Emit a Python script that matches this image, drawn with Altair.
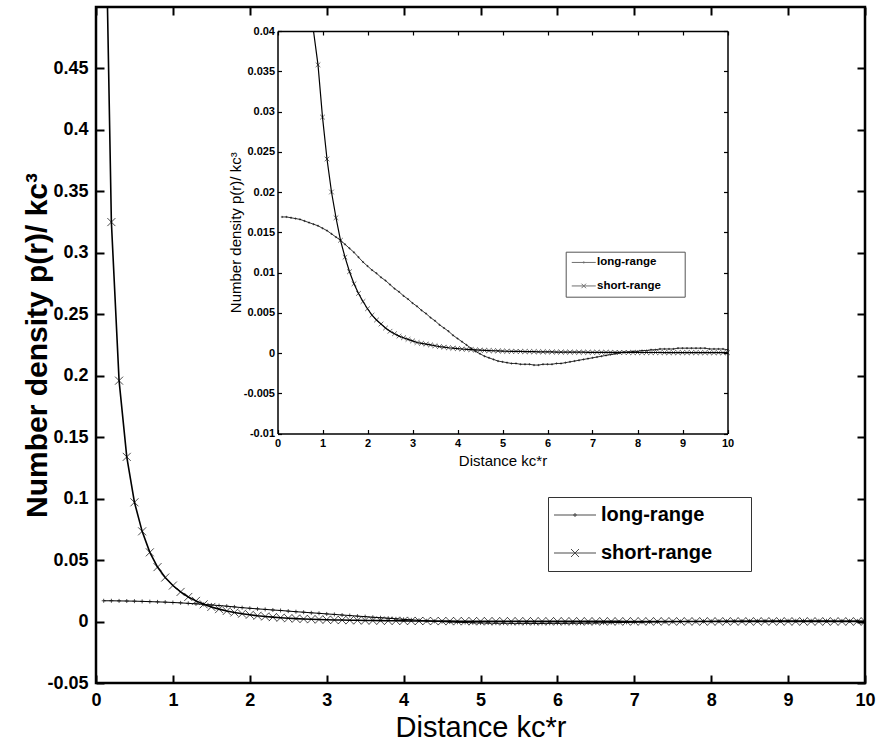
import altair as alt
import pandas as pd

# ---------------- data ----------------
r = [0.1, 0.2, 0.3, 0.4, 0.5, 0.6, 0.7, 0.8, 0.9, 1.0,
     1.1, 1.2, 1.3, 1.4, 1.5, 1.6, 1.7, 1.8, 1.9, 2.0,
     2.1, 2.2, 2.3, 2.4, 2.5, 2.6, 2.7, 2.8, 2.9, 3.0,
     3.1, 3.2, 3.3, 3.4, 3.5, 3.6, 3.7, 3.8, 3.9, 4.0,
     4.1, 4.2, 4.3, 4.4, 4.5, 4.6, 4.7, 4.8, 4.9, 5.0,
     5.1, 5.2, 5.3, 5.4, 5.5, 5.6, 5.7, 5.8, 5.9, 6.0,
     6.1, 6.2, 6.3, 6.4, 6.5, 6.6, 6.7, 6.8, 6.9, 7.0,
     7.1, 7.2, 7.3, 7.4, 7.5, 7.6, 7.7, 7.8, 7.9, 8.0,
     8.1, 8.2, 8.3, 8.4, 8.5, 8.6, 8.7, 8.8, 8.9, 9.0,
     9.1, 9.2, 9.3, 9.4, 9.5, 9.6, 9.7, 9.8, 9.9, 10.0]

long_range = [0.0169, 0.0169, 0.0168, 0.0167, 0.0166, 0.0164, 0.0162, 0.0160, 0.0158, 0.0155,
              0.0152, 0.0148, 0.0144, 0.0140, 0.0135, 0.0130, 0.0125, 0.0119, 0.0113, 0.0108,
              0.0103, 0.0099, 0.0094, 0.0090, 0.0085, 0.0080, 0.0076, 0.0071, 0.0067, 0.0062,
              0.0058, 0.0053, 0.0049, 0.0044, 0.0040, 0.0035, 0.0031, 0.0027, 0.0022, 0.0018,
              0.0014, 0.0010, 0.0006, 0.0002, -0.0001, -0.0004, -0.0006, -0.0008, -0.0010, -0.0011,
              -0.0012, -0.0013, -0.0013, -0.0014, -0.0014, -0.0014, -0.0015, -0.0015, -0.0014, -0.0014,
              -0.0014, -0.0013, -0.0013, -0.0012, -0.0011, -0.0010, -0.0009, -0.0008, -0.0007, -0.0006,
              -0.0005, -0.0004, -0.0003, -0.0002, -0.0001, 0.0000, 0.0001, 0.0001, 0.0002, 0.0002,
              0.0003, 0.0003, 0.0004, 0.0004, 0.0005, 0.0005, 0.0005, 0.0005, 0.0006, 0.0006,
              0.0006, 0.0006, 0.0006, 0.0006, 0.0006, 0.0005, 0.0005, 0.0005, 0.0005, 0.0004]

short_range = [0.67, 0.325, 0.196, 0.134, 0.097, 0.0734, 0.0563, 0.0443, 0.0358, 0.0293,
               0.0241, 0.0200, 0.0168, 0.0140, 0.0119, 0.0101, 0.0086, 0.0074, 0.0064, 0.0055,
               0.0047, 0.0041, 0.0036, 0.0031, 0.0027, 0.0024, 0.0021, 0.0019, 0.0017, 0.0015,
               0.0013, 0.0012, 0.0011, 0.0010, 0.0009, 0.0008, 0.00072, 0.00065, 0.0006, 0.00055,
               0.0005, 0.00046, 0.00042, 0.00038, 0.00035, 0.00032, 0.0003, 0.00028, 0.00026, 0.00024,
               0.00022, 0.00021, 0.0002, 0.00019, 0.00018, 0.00017, 0.00016, 0.00015, 0.00014, 0.00014,
               0.00013, 0.00012, 0.00012, 0.00011, 0.00011, 0.0001, 0.0001, 0.0001, 0.00009, 0.00009,
               0.00009, 0.00008, 0.00008, 0.00008, 0.00007, 0.00007, 0.00007, 0.00007, 0.00006, 0.00006,
               0.00006, 0.00006, 0.00006, 0.00006, 0.00006, 0.00005, 0.00005, 0.00005, 0.00005, 0.00005,
               0.00005, 0.00005, 0.00005, 0.00004, 0.00004, 0.00004, 0.00004, 0.00004, 0.00004, 0.00004]

series_names = ["long-range", "short-range"]
x_ticks = [0, 1, 2, 3, 4, 5, 6, 7, 8, 9, 10]
main_y_ticks = [-0.05, 0, 0.05, 0.1, 0.15, 0.2, 0.25, 0.3, 0.35, 0.4, 0.45]
inset_y_ticks = [-0.01, -0.005, 0, 0.005, 0.01, 0.015, 0.02, 0.025, 0.03, 0.035, 0.04]
x_title = "Distance kc*r"
y_title = "Number density p(r)/ kc³"

long_df = pd.DataFrame({"r": r, "v": long_range, "series": series_names[0]})
short_df = pd.DataFrame({"r": r, "v": short_range, "series": series_names[1]})
both_df = pd.concat([long_df, short_df], ignore_index=True)

# ---------------- layout ----------------
W, H = 769, 676
IX0, IX1 = 181.5, 631.5      # inset x range inside the plot area
IY_TOP, IY_BOT = 24, 426.5   # inset y range inside the plot area

NARROW = "Liberation Sans Narrow, Arial Narrow, Liberation Sans, Arial, sans-serif"
SANS = "Liberation Sans, Arial, sans-serif"
LBL = "'' + datum.value"
PAD = "\u2800"   # blank (non-whitespace) glyph used to widen legend boxes

X_PATH = "M-1,-1L1,1M-1,1L1,-1"
DOT_PATH = "M-1,0L1,0M0,-1L0,1"

main_xs = alt.Scale(domain=[0, 10], nice=False, zero=False)
main_ys = alt.Scale(domain=[-0.05, 0.5], nice=False, zero=False)
ins_xs = alt.Scale(domain=[0, 10], range=[IX0, IX1], nice=False, zero=False)
ins_ys = alt.Scale(domain=[-0.01, 0.04], range=[IY_BOT, IY_TOP], nice=False, zero=False, clamp=True)


def tick_axis(orient, values, offset, size):
    return alt.Axis(orient=orient, values=values, offset=offset, domain=False, labels=False,
                    ticks=True, tickSize=size, tickWidth=2 if size > 5 else 1.2,
                    tickColor="black", grid=False, title=None)


def dom_axis(orient, offset, width):
    return alt.Axis(orient=orient, offset=offset, domain=True, domainColor="black",
                    domainWidth=width, labels=False, ticks=False, grid=False, title=None)


def ghost(xscale, yscale, xaxis, yaxis):
    return alt.Chart(long_df).mark_point(opacity=0).encode(
        x=alt.X("r:Q", scale=xscale, axis=xaxis),
        y=alt.Y("v:Q", scale=yscale, axis=yaxis),
    )


# ---------------- main plot ----------------
main_x_axis = alt.Axis(orient="bottom", values=x_ticks, labelExpr=LBL, domain=False, ticks=False,
                       tickSize=0, grid=False, labelFont=NARROW, labelFontSize=18,
                       labelFontWeight="bold", labelColor="black", labelPadding=8,
                       labelFlush=False, labelOverlap=False,
                       title=x_title, titleFont=SANS, titleFontSize=29,
                       titleFontWeight="normal", titleColor="black",
                       titleX=W / 2, titleY=44, titleAlign="center", titleBaseline="middle")
main_y_axis = alt.Axis(orient="left", values=main_y_ticks, labelExpr=LBL, domain=False, ticks=False,
                       tickSize=0, grid=False, labelFont=NARROW, labelFontSize=18,
                       labelFontWeight="bold", labelColor="black", labelPadding=8,
                       labelFlush=False, labelOverlap=False,
                       title=y_title, titleFont=SANS, titleFontSize=30,
                       titleFontWeight="bold", titleColor="black",
                       titleX=-59, titleY=338, titleAlign="center", titleBaseline="middle",
                       titleAngle=270)

main_long_line = alt.Chart(long_df).mark_line(color="black", strokeWidth=1, clip=True).encode(
    x=alt.X("r:Q", scale=main_xs, axis=main_x_axis),
    y=alt.Y("v:Q", scale=main_ys, axis=main_y_axis),
)
main_long_pts = alt.Chart(long_df).mark_point(shape=DOT_PATH, size=16, filled=False, color="black",
                                              strokeWidth=1, clip=True).encode(x="r:Q", y="v:Q")
main_short_line = alt.Chart(short_df).mark_line(color="black", strokeWidth=1.6, clip=True).encode(
    x="r:Q", y="v:Q")
main_short_pts = alt.Chart(short_df).mark_point(shape=X_PATH, size=64, filled=False, color="black",
                                                strokeWidth=1, clip=True).encode(x="r:Q", y="v:Q")

main_legend = alt.Chart(both_df).transform_filter("false").mark_point(
    filled=False, color="black", strokeWidth=1).encode(
    x="r:Q", y="v:Q",
    shape=alt.Shape("series:N", scale=alt.Scale(
        domain=series_names,
        range=["M-5.25,0L5.25,0M-0.5,0L0.5,0M0,-0.5L0,0.5",
               "M-5.25,0L5.25,0M-1,-1L1,1M-1,1L1,-1"]),
        legend=alt.Legend(title=None, orient="none", legendX=452, legendY=490,
                          strokeColor="#333333", fillColor="white", padding=8,
                          symbolSize=64, symbolOffset=9, labelOffset=16, rowPadding=18,
                          symbolStrokeColor="black", symbolStrokeWidth=1,
                          symbolFillColor="transparent",
                          labelFont=NARROW, labelFontSize=20, labelFontWeight="bold",
                          labelColor="black", labelLimit=400,
                          labelExpr="datum.label + '" + PAD * 2 + "'")),
)

main_layer = alt.layer(main_long_line, main_long_pts, main_short_line, main_short_pts, main_legend)

main_ticks_bl = ghost(main_xs, main_ys,
                      tick_axis("bottom", x_ticks, -8, 8), tick_axis("left", main_y_ticks, -8, 8))
main_ticks_tr = ghost(main_xs, main_ys,
                      tick_axis("top", x_ticks, -8, 8), tick_axis("right", main_y_ticks, -8, 8))

# ---------------- inset ----------------
off_b = -(H - IY_BOT)
off_l = -IX0
off_t = -IY_TOP
off_r = -(W - IX1)

ins_x_axis = alt.Axis(orient="bottom", offset=off_b, values=x_ticks, labelExpr=LBL,
                      domain=True, domainColor="black", domainWidth=1.5, ticks=False, tickSize=0,
                      grid=False, labelFont=NARROW, labelFontSize=11, labelFontWeight="bold",
                      labelColor="black", labelPadding=4, labelFlush=False, labelOverlap=False,
                      title=x_title, titleFont=SANS, titleFontSize=15, titleFontWeight="normal",
                      titleColor="black", titleX=(IX0 + IX1) / 2, titleY=26.5,
                      titleAlign="center", titleBaseline="middle")
ins_y_axis = alt.Axis(orient="left", offset=off_l, values=inset_y_ticks, labelExpr=LBL,
                      domain=True, domainColor="black", domainWidth=1.5, ticks=False, tickSize=0,
                      grid=False, labelFont=NARROW, labelFontSize=11, labelFontWeight="bold",
                      labelColor="black", labelPadding=3, labelFlush=False, labelOverlap=False,
                      title=y_title, titleFont=SANS, titleFontSize=15, titleFontWeight="normal",
                      titleColor="black", titleX=-42.5, titleY=(IY_TOP + IY_BOT) / 2,
                      titleAlign="center", titleBaseline="middle", titleAngle=270)

ins_long_line = alt.Chart(long_df).mark_line(color="black", strokeWidth=0.8).encode(
    x=alt.X("r:Q", scale=ins_xs, axis=ins_x_axis),
    y=alt.Y("v:Q", scale=ins_ys, axis=ins_y_axis),
)
ins_long_pts = alt.Chart(long_df).mark_point(shape=DOT_PATH, size=5, filled=False, color="black",
                                             strokeWidth=0.8).encode(x="r:Q", y="v:Q")
ins_short_line = alt.Chart(short_df).transform_filter("datum.r >= 0.8").mark_line(
    color="black", strokeWidth=1.2).encode(x="r:Q", y="v:Q")
ins_short_pts = alt.Chart(short_df).transform_filter("datum.v <= 0.04").mark_point(
    shape=X_PATH, size=22, filled=False, color="black", strokeWidth=0.8).encode(x="r:Q", y="v:Q")

ins_legend = alt.Chart(both_df).transform_filter("false").mark_point(
    filled=False, color="black", strokeWidth=1).encode(
    x="r:Q", y="v:Q",
    shape=alt.Shape("series:N", scale=alt.Scale(
        domain=series_names,
        range=["M-4.8,0L4.8,0M-0.4,0L0.4,0M0,-0.4L0,0.4",
               "M-4.8,0L4.8,0M-0.9,-0.9L0.9,0.9M-0.9,0.9L0.9,-0.9"]),
        legend=alt.Legend(title=None, orient="none", legendX=469.7, legendY=244.7,
                          strokeColor="#555555", fillColor="white", padding=5,
                          symbolSize=25, symbolOffset=7.3, labelOffset=7.5, rowPadding=10.5,
                          symbolStrokeColor="#333333", symbolStrokeWidth=1,
                          symbolFillColor="transparent",
                          labelFont=NARROW, labelFontSize=11.5, labelFontWeight="bold",
                          labelColor="black", labelLimit=400,
                          labelExpr="datum.label + '" + PAD * 2 + "'")),
)

inset_layer = alt.layer(ins_long_line, ins_long_pts, ins_short_line, ins_short_pts, ins_legend)

ins_ticks_bl = ghost(ins_xs, ins_ys,
                     tick_axis("bottom", x_ticks, off_b - 4, 4),
                     tick_axis("left", inset_y_ticks, off_l - 4, 4))
ins_ticks_tr = ghost(ins_xs, ins_ys,
                     tick_axis("top", x_ticks, off_t - 4, 4),
                     tick_axis("right", inset_y_ticks, off_r - 4, 4))
ins_frame_tr = ghost(ins_xs, ins_ys, dom_axis("top", off_t, 1.5), dom_axis("right", off_r, 1.5))

chart = alt.layer(
    main_layer, main_ticks_bl, main_ticks_tr,
    inset_layer, ins_ticks_bl, ins_ticks_tr, ins_frame_tr,
).resolve_scale(
    x="independent", y="independent", shape="independent"
).resolve_legend(
    shape="independent"
).properties(
    width=W, height=H,
    autosize=alt.AutoSizeParams(type="none"),
    padding={"left": 96, "top": 7, "right": 15, "bottom": 61},
    background="white",
).configure_view(
    stroke="black", strokeWidth=2.5
)

chart.save("out.html", embed_options={"renderer": "svg", "actions": False})
